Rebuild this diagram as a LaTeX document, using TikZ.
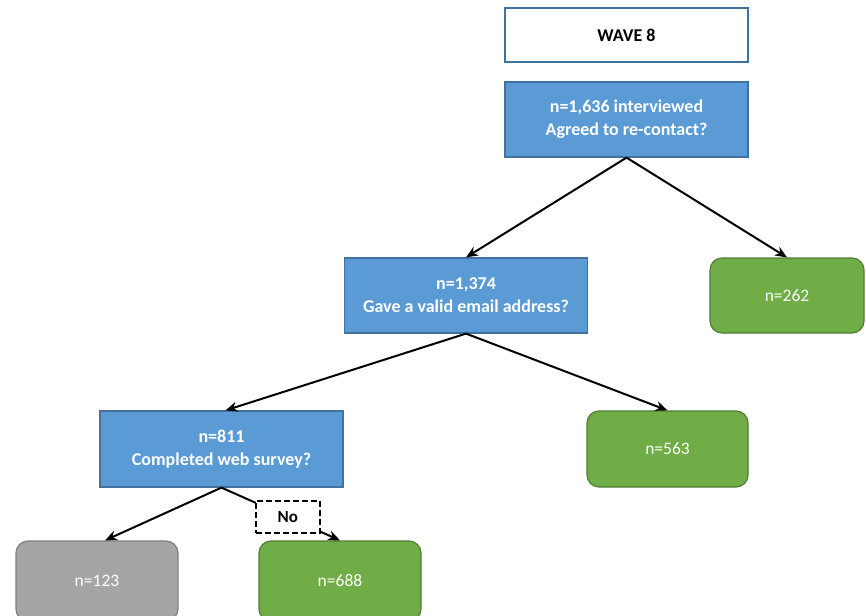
\documentclass[tikz,border=0pt]{standalone}
\usepackage{fontspec}
\setmainfont{Carlito}
\usepackage{tikz}
\usetikzlibrary{arrows.meta, positioning}
\usepackage{xcolor}
\definecolor{qblue}{HTML}{5B9BD5}
\definecolor{qedge}{HTML}{41719C}
\definecolor{ggreen}{HTML}{70AD47}
\definecolor{gedge}{HTML}{507E32}
\definecolor{ggray}{HTML}{A5A5A5}
\definecolor{gyedge}{HTML}{7F7F7F}

\begin{document}
\begin{tikzpicture}[x=1pt, y=-1pt,
    question/.style={draw=qedge, fill=qblue, line width=1.2pt, minimum width=243pt, minimum height=75pt,
        align=center, text=white, font=\fontsize{18}{23}\selectfont\bfseries},
    outcome/.style={draw=gedge, fill=ggreen, line width=1.2pt, rounded corners=12pt, minimum width=161pt,
        minimum height=76pt, text=white, font=\fontsize{17.5}{21}\selectfont},
    arrow/.style={line width=2pt, -{Stealth[length=12pt, width=10pt]}}
]
    \useasboundingbox (0,0) rectangle (866,615);
    \clip (0,0) rectangle (866,615);

    % title and questions
    \node[draw=qedge, fill=white, line width=1.2pt, minimum width=243pt, minimum height=54pt,
        font=\fontsize{18}{22}\selectfont\bfseries] (wave) at (626.5,35) {WAVE 8};
    \node[question] (interviewed) at (626.5,119.5) {n=1,636 interviewed\\Agreed to re-contact?};
    \node[question] (email) at (466,295.5) {n=1,374\\Gave a valid email address?};
    \node[question, minimum height=76pt] (survey) at (221.5,449) {n=811\\Completed web survey?};

    % outcomes
    \node[outcome, minimum width=154pt, minimum height=75pt] (recontact) at (787,295.5) {n=262};
    \node[outcome] (noemail) at (667.5,449) {n=563};
    \node[outcome, draw=gyedge, fill=ggray, minimum width=162pt, minimum height=80pt] (done) at (97,581) {n=123};
    \node[outcome, minimum width=162pt, minimum height=80pt] (notdone) at (340,581) {n=688};

    % connectors
    \draw[arrow] (interviewed.south) -- (email.north);
    \draw[arrow] (interviewed.south) -- (recontact.north);
    \draw[arrow] (email.south) -- ([xshift=4pt]survey.north);
    \draw[arrow] (email.south) -- (noemail.north);
    \draw[arrow] (survey.south) -- ([xshift=8pt]done.north);
    \draw[arrow] (survey.south) -- (notdone.north)
        node[pos=0.56, draw, dash pattern=on 6pt off 3pt, fill=white, line width=2pt, minimum width=64pt,
            minimum height=32pt, font=\fontsize{17}{20}\selectfont\bfseries] (nolabel) {No};
\end{tikzpicture}
\end{document}
